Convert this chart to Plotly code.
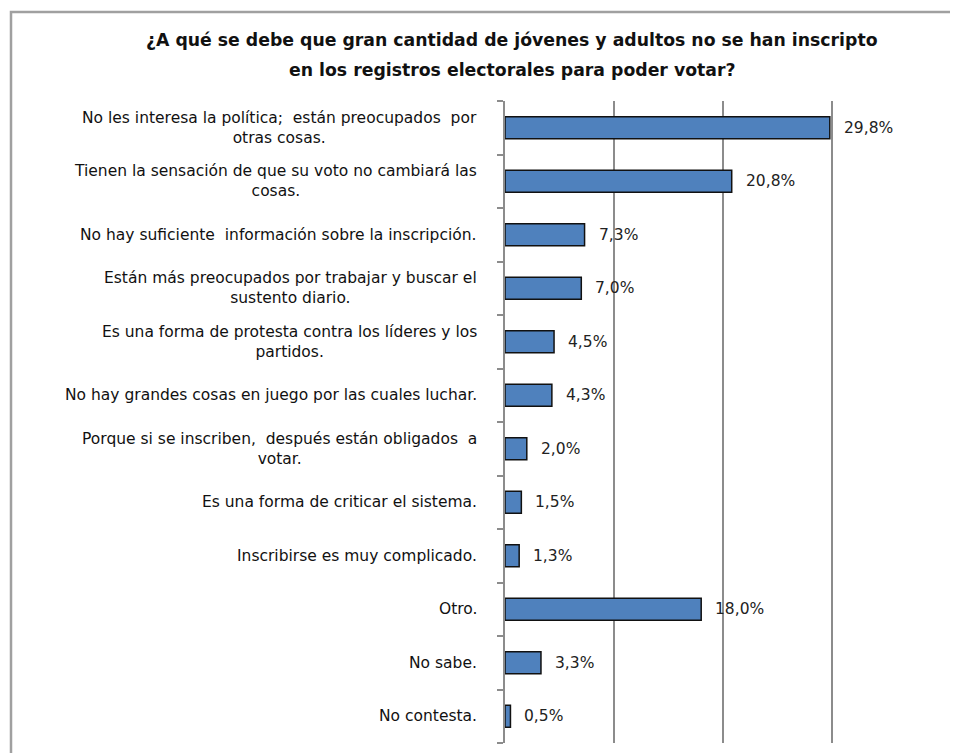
import plotly.graph_objects as go

TITLE_LINES = [
    "¿A qué se debe que gran cantidad de jóvenes y adultos no se han inscripto",
    "en los registros electorales para poder votar?",
]

categories = [
    "No les interesa la política;  están preocupados  por<br>otras cosas.",
    "Tienen la sensación de que su voto no cambiará las<br>cosas.",
    "No hay suficiente  información sobre la inscripción.",
    "Están más preocupados por trabajar y buscar el<br>sustento diario.",
    "Es una forma de protesta contra los líderes y los<br>partidos.",
    "No hay grandes cosas en juego por las cuales luchar.",
    "Porque si se inscriben,  después están obligados  a<br>votar.",
    "Es una forma de criticar el sistema.",
    "Inscribirse es muy complicado.",
    "Otro.",
    "No sabe.",
    "No contesta.",
]

values = [29.8, 20.8, 7.3, 7.0, 4.5, 4.3, 2.0, 1.5, 1.3, 18.0, 3.3, 0.5]

value_labels = [f"{v:.1f}".replace(".", ",") + "%" for v in values]

FONT = "DejaVu Sans"
# page has an 8px body margin; figure drawn from (8, 8)
OFF = 8
W, H = 958 - OFF, 753 - OFF
# plot area in page pixels: x 505..941, y 101..743
ML = 505 - OFF
MT = 101 - OFF
MR = W - (941 - OFF)
MB = H - (743 - OFF)
plot_w = W - ML - MR
plot_h = H - MT - MB


def px_to_paper_x(px):
    return (px - OFF - ML) / plot_w


def px_to_paper_y(py):
    return ((H - MB) - (py - OFF)) / plot_h


fig = go.Figure()
fig.add_trace(go.Bar(
    y=list(range(len(categories))),
    x=values,
    orientation="h",
    width=0.41,
    marker=dict(color="#4F81BD", line=dict(color="#111111", width=1.5)),
    hoverinfo="skip",
))

annotations = []
for i, lab in enumerate(categories):
    annotations.append(dict(
        x=0, xref="paper", y=i, yref="y",
        text=lab, showarrow=False,
        xanchor="right", yanchor="middle", align="center",
        xshift=-26,
        font=dict(family=FONT, size=15.5, color="#111111"),
    ))

for i, (v, t) in enumerate(zip(values, value_labels)):
    annotations.append(dict(
        x=v, xref="x", y=i, yref="y",
        text=t, showarrow=False,
        xanchor="left", yanchor="middle", xshift=12,
        font=dict(family=FONT, size=15.5, color="#222222"),
    ))

for k, line in enumerate(TITLE_LINES):
    annotations.append(dict(
        x=px_to_paper_x(512), xref="paper",
        y=px_to_paper_y(40 + 30 * k), yref="paper",
        text=f"<b>{line}</b>", showarrow=False,
        xanchor="center", yanchor="middle",
        font=dict(family=FONT, size=17.3, color="#111111"),
    ))

frame = dict(
    type="rect", xref="paper", yref="paper",
    x0=px_to_paper_x(11), x1=px_to_paper_x(980),
    y0=px_to_paper_y(780), y1=px_to_paper_y(12),
    line=dict(color="#A0A0A0", width=2.5), fillcolor="rgba(0,0,0,0)",
    layer="below",
)

fig.update_layout(
    width=W, height=H,
    margin=dict(l=ML, r=MR, t=MT, b=MB),
    paper_bgcolor="white", plot_bgcolor="white",
    showlegend=False,
    annotations=annotations,
    shapes=[frame],
    xaxis=dict(
        range=[0, 40], dtick=10, showticklabels=False,
        showgrid=True, gridcolor="#8C8C8C", gridwidth=1.5,
        zeroline=False, showline=False, fixedrange=True,
    ),
    yaxis=dict(
        type="linear", range=[len(categories) - 0.5, -0.5],
        tickvals=[i - 0.5 for i in range(len(categories) + 1)],
        showticklabels=False, ticks="outside", ticklen=6,
        tickcolor="#8C8C8C", tickwidth=1.5,
        showline=True, linecolor="#8C8C8C", linewidth=1.5,
        showgrid=False, zeroline=False, fixedrange=True,
    ),
)

fig.write_html("out.html", config={"displayModeBar": False})
